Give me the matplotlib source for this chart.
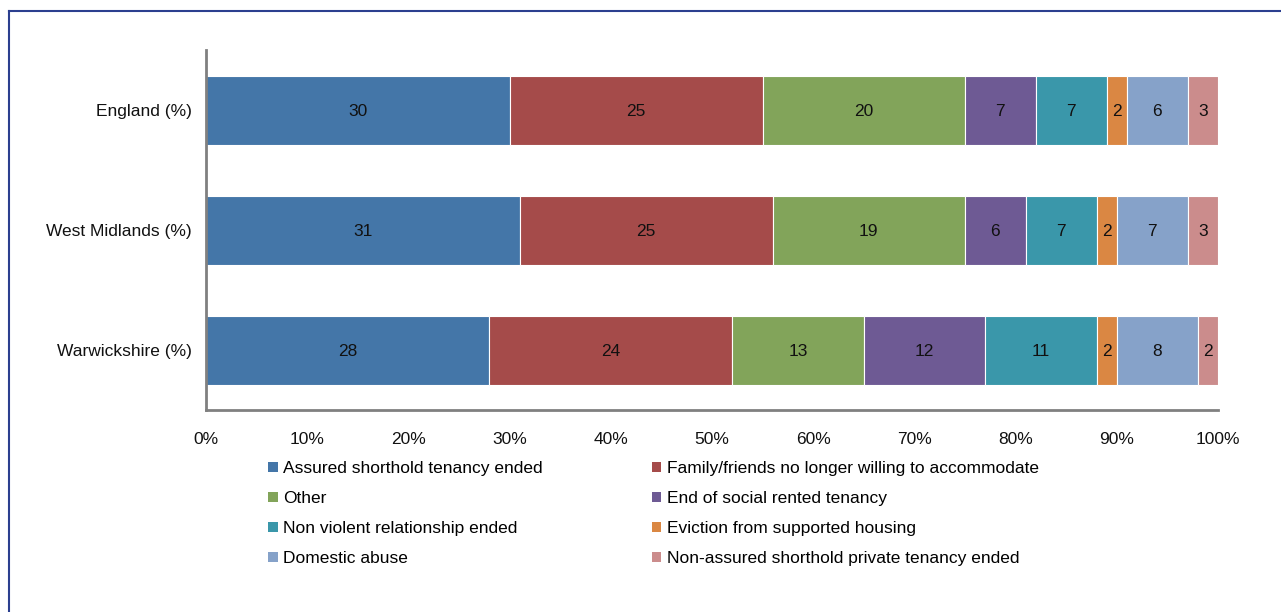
import matplotlib
matplotlib.use("Agg")
import matplotlib.pyplot as plt
from matplotlib.patches import Patch
from matplotlib.lines import Line2D
from matplotlib.ticker import FuncFormatter

plt.rcParams['font.family'] = ['Liberation Sans', 'DejaVu Sans']

regions = ["England (%)", "West Midlands (%)", "Warwickshire (%)"]
reasons = [
    "Assured shorthold tenancy ended",
    "Family/friends no longer willing to accommodate",
    "Other",
    "End of social rented tenancy",
    "Non violent relationship ended",
    "Eviction from supported housing",
    "Domestic abuse",
    "Non-assured shorthold private tenancy ended",
]
england = [30, 25, 20, 7, 7, 2, 6, 3]
west_midlands = [31, 25, 19, 6, 7, 2, 7, 3]
warwickshire = [28, 24, 13, 12, 11, 2, 8, 2]
colors = ["#4476A8", "#A54B4A", "#82A45A", "#6E5A94",
          "#3A97AA", "#DA8743", "#86A2C9", "#CB8C8C"]

rows = [england, west_midlands, warwickshire]
FS = 12.5

fig = plt.figure(figsize=(12.81, 6.12), dpi=100)
ax = fig.add_axes([206 / 1281, 1 - 410 / 612, (1218 - 206) / 1281, 360 / 612])

for k, reason in enumerate(reasons):
    vals = [r[k] for r in rows]
    lefts = [sum(r[:k]) for r in rows]
    bars = ax.barh(range(len(regions)), vals, left=lefts, height=0.575,
                   color=colors[k], edgecolor="white", linewidth=0.8,
                   label=reason)
    for b, v in zip(bars, vals):
        ax.text(b.get_x() + b.get_width() / 2, b.get_y() + b.get_height() / 2,
                f"{v}", ha="center", va="center_baseline", fontsize=FS,
                color="#111111")

ax.set_xlim(0, 100)
ax.set_ylim(2.5, -0.5)
ax.set_yticks(range(len(regions)))
ax.set_yticklabels(regions)
ax.set_xticks(range(0, 101, 10))
ax.xaxis.set_major_formatter(FuncFormatter(lambda v, p: f"{v:.0f}%"))
ax.tick_params(axis="both", length=0, labelsize=FS, colors="#111111")
ax.tick_params(axis="y", pad=10)
ax.tick_params(axis="x", pad=16)
for s in ["top", "right"]:
    ax.spines[s].set_visible(False)
for s in ["left", "bottom"]:
    ax.spines[s].set_color("#808080")
    ax.spines[s].set_linewidth(2)

handles = [Patch(facecolor=c, edgecolor="none") for c in colors]
order = [0, 2, 4, 6, 1, 3, 5, 7]
fig.legend([handles[i] for i in order], [reasons[i] for i in order],
           ncol=2, loc="upper left", bbox_to_anchor=(268 / 1281, 1 - 461 / 612),
           frameon=False, fontsize=FS, handlelength=0.55, handleheight=0.55,
           handletextpad=0.3, labelspacing=0.87, columnspacing=6.3,
           borderaxespad=0, borderpad=0)

# outer frame
fig.add_artist(Line2D([9 / 1281, 9 / 1281], [0, 1 - 10.5 / 612],
                      transform=fig.transFigure, color="#2B3F8F", linewidth=1.5))
fig.add_artist(Line2D([9 / 1281, 1], [1 - 10.5 / 612, 1 - 10.5 / 612],
                      transform=fig.transFigure, color="#2B3F8F", linewidth=1.5))

fig.savefig("out.png", dpi=100)
